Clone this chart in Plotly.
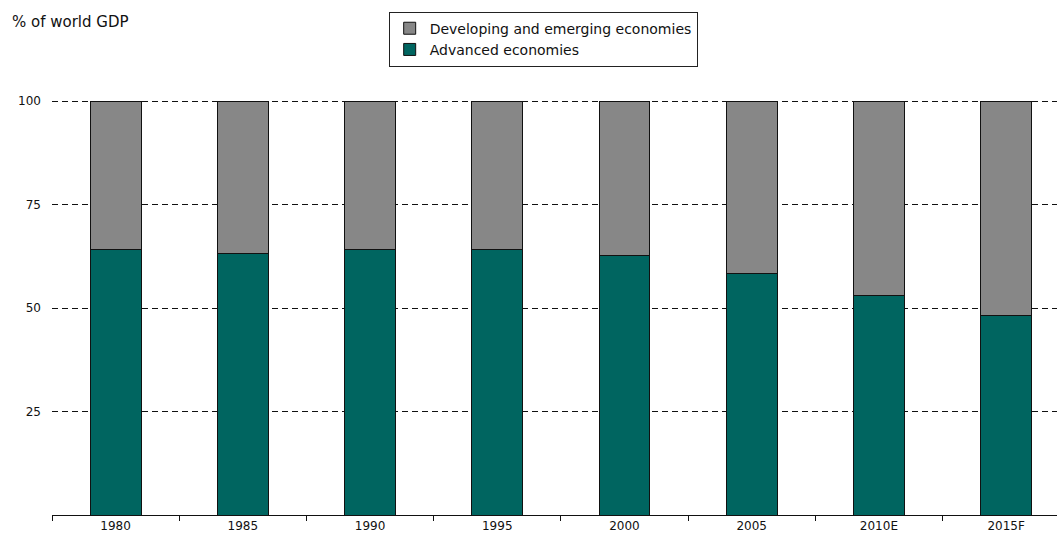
import plotly.graph_objects as go

years = ["1980", "1985", "1990", "1995", "2000", "2005", "2010E", "2015F"]
advanced = [64.2, 63.2, 64.2, 64.2, 62.8, 58.4, 53.1, 48.2]
developing = [round(100 - a, 1) for a in advanced]
y_ticks = [25, 50, 75, 100]

FONT = "DejaVu Sans"
TEAL = "#006560"
GREY = "#878787"

fig = go.Figure()
fig.add_trace(go.Bar(
    x=years, y=advanced, name="Advanced economies",
    marker=dict(color=TEAL, line=dict(color="#111111", width=1)),
    width=0.4,
))
fig.add_trace(go.Bar(
    x=years, y=developing, name="Developing and emerging economies",
    marker=dict(color=GREY, line=dict(color="#111111", width=1)),
    width=0.4,
))

fig.update_layout(
    width=1057, height=553,
    margin=dict(l=52, r=0, t=99, b=38),
    barmode="stack",
    plot_bgcolor="white", paper_bgcolor="white",
    font=dict(family=FONT, size=12, color="#111111"),
    showlegend=True,
    legend=dict(
        traceorder="reversed",
        x=0.335, y=1.21, xanchor="left", yanchor="top",
        bordercolor="#222222", borderwidth=1,
        font=dict(family=FONT, size=14, color="#111111"),
        itemwidth=30, tracegroupgap=0,
        bgcolor="white",
    ),
    annotations=[dict(
        text="% of world GDP", xref="paper", yref="paper",
        x=-42 / 1005, y=1 + (99 - 22) / 416,
        xanchor="left", yanchor="middle", showarrow=False,
        font=dict(family=FONT, size=15, color="#111111"),
    )],
)

fig.update_xaxes(
    type="category",
    range=[-0.5, 7.4],
    showline=True, linecolor="#111111", linewidth=1,
    ticks="outside", tickson="boundaries", ticklen=5, tickcolor="#111111",
    showgrid=False,
    tickfont=dict(family=FONT, size=12, color="#111111"),
)
fig.update_yaxes(
    range=[0, 100.5],
    tickvals=y_ticks,
    ticktext=[str(v) for v in y_ticks],
    showline=False, zeroline=False,
    showgrid=True, gridcolor="#111111", gridwidth=1, griddash="6px,4px",
    ticks="", ticklabelstandoff=10,
    tickfont=dict(family=FONT, size=12, color="#111111"),
)

fig.write_html("out.html")
